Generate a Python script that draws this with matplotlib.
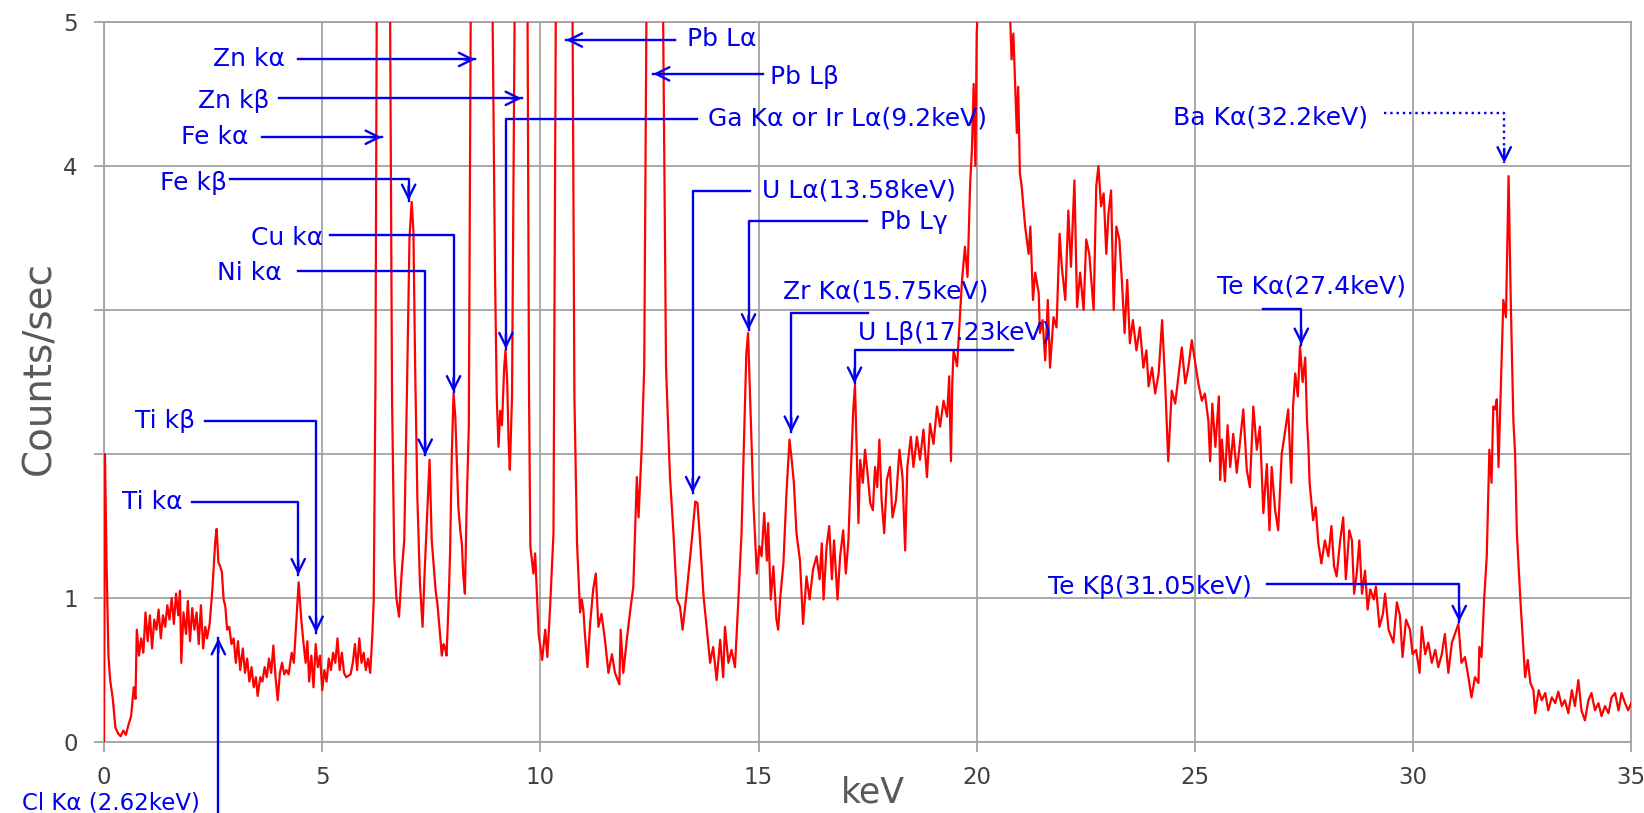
#!/usr/bin/env python3
"""
XRF spectrum with peak identification arrows (counts/sec vs keV)
"""

import numpy as np
import matplotlib.pyplot as plt

# spectrum: (keV, counts/sec)
low_region = [
    (0.0, 0.0), (0.02, 2.0), (0.06, 1.2), (0.1, 0.6), (0.14, 0.43), (0.2, 0.3), (0.26, 0.1),
    (0.32, 0.06), (0.38, 0.04), (0.44, 0.08), (0.5, 0.05), (0.56, 0.12), (0.62, 0.18),
    (0.68, 0.38), (0.72, 0.3), (0.75, 0.78), (0.8, 0.6), (0.85, 0.72), (0.9, 0.62), (0.95, 0.9),
    (1.0, 0.7), (1.05, 0.88), (1.1, 0.65), (1.15, 0.85), (1.2, 0.78), (1.25, 0.92), (1.3, 0.72),
    (1.35, 0.88), (1.4, 0.8), (1.45, 0.95), (1.5, 0.85), (1.55, 1.0), (1.6, 0.82), (1.65, 1.03),
    (1.7, 0.88), (1.74, 1.05), (1.77, 0.55), (1.82, 0.9), (1.88, 0.75), (1.92, 0.98), (1.97, 0.7),
    (2.02, 0.93), (2.07, 0.78), (2.12, 0.9), (2.17, 0.68), (2.22, 0.95), (2.27, 0.65), (2.32, 0.8),
    (2.36, 0.72), (2.42, 0.82), (2.48, 1.05), (2.55, 1.4), (2.58, 1.48), (2.62, 1.25), (2.66, 1.22),
    (2.7, 1.18), (2.74, 0.99), (2.78, 0.94), (2.82, 0.78), (2.87, 0.8), (2.92, 0.68), (2.97, 0.72),
    (3.02, 0.55), (3.07, 0.7), (3.12, 0.5), (3.18, 0.65), (3.23, 0.48), (3.28, 0.58), (3.33, 0.42),
    (3.38, 0.52), (3.43, 0.38), (3.48, 0.45), (3.52, 0.32), (3.58, 0.45), (3.63, 0.42), (3.68, 0.52),
    (3.73, 0.45), (3.78, 0.58), (3.83, 0.48), (3.88, 0.67), (3.93, 0.45), (3.98, 0.29), (4.03, 0.48),
    (4.08, 0.55), (4.13, 0.47), (4.18, 0.5), (4.23, 0.47), (4.3, 0.62), (4.35, 0.55), (4.4, 0.8),
    (4.46, 1.11), (4.52, 0.85), (4.57, 0.69), (4.62, 0.55), (4.66, 0.7), (4.7, 0.42), (4.75, 0.6),
    (4.8, 0.38), (4.85, 0.68), (4.9, 0.52), (4.95, 0.6), (5.0, 0.36), (5.05, 0.5), (5.1, 0.42),
    (5.15, 0.58), (5.2, 0.5), (5.25, 0.62), (5.3, 0.55), (5.35, 0.72), (5.4, 0.5), (5.45, 0.62),
    (5.5, 0.48), (5.55, 0.45), (5.6, 0.46), (5.65, 0.47), (5.7, 0.55), (5.75, 0.68), (5.8, 0.5),
    (5.85, 0.72), (5.9, 0.55), (5.95, 0.62), (6.0, 0.5), (6.05, 0.58), (6.1, 0.48), (6.15, 0.75),
    (6.18, 0.99),
]

mid_region = [
    (6.22, 2.5), (6.26, 6.0), (6.4, 14.0), (6.54, 6.0), (6.6, 2.4), (6.65, 1.29), (6.7, 1.0),
    (6.76, 0.87), (6.82, 1.17), (6.88, 1.4), (6.94, 2.4), (7.0, 3.5), (7.05, 3.75), (7.09, 3.55),
    (7.13, 2.6), (7.18, 1.7), (7.24, 1.1), (7.3, 0.8), (7.35, 1.2), (7.4, 1.54), (7.46, 1.96),
    (7.51, 1.4), (7.55, 1.24), (7.6, 1.05), (7.64, 0.96), (7.7, 0.75), (7.74, 0.6), (7.78, 0.68),
    (7.81, 0.66), (7.85, 0.6), (7.9, 1.0), (7.93, 1.31), (7.97, 2.0), (8.01, 2.42), (8.05, 2.26),
    (8.12, 1.63), (8.17, 1.45), (8.2, 1.38), (8.23, 1.17), (8.27, 1.03), (8.31, 1.63), (8.36, 2.2),
    (8.41, 5.5), (8.63, 16.0), (8.9, 5.2), (8.96, 3.26), (9.0, 2.4), (9.04, 2.05), (9.08, 2.3),
    (9.12, 2.2), (9.17, 2.6), (9.2, 2.72), (9.24, 2.5), (9.27, 2.1), (9.3, 1.89), (9.35, 2.4),
    (9.42, 5.5), (9.57, 9.0), (9.7, 5.5), (9.74, 2.4), (9.77, 1.36), (9.84, 1.17), (9.88, 1.31),
    (9.96, 0.75), (10.04, 0.57), (10.11, 0.78), (10.16, 0.59), (10.22, 0.92), (10.3, 1.45),
    (10.36, 5.5), (10.55, 12.0), (10.73, 5.5), (10.78, 2.4), (10.84, 1.38), (10.91, 0.9),
    (10.95, 0.99), (10.99, 0.9), (11.02, 0.75), (11.08, 0.52), (11.14, 0.82), (11.21, 1.06),
    (11.27, 1.17), (11.33, 0.8), (11.4, 0.89), (11.48, 0.71), (11.56, 0.48), (11.64, 0.61),
    (11.71, 0.48), (11.81, 0.4), (11.84, 0.78), (11.9, 0.48), (11.98, 0.71), (12.05, 0.89),
    (12.13, 1.08), (12.21, 1.84), (12.25, 1.56), (12.32, 2.03), (12.38, 2.6), (12.44, 5.5),
    (12.62, 10.0), (12.8, 5.5), (12.88, 2.6), (12.97, 1.84), (13.05, 1.45), (13.13, 0.99),
    (13.2, 0.94), (13.26, 0.78), (13.35, 1.03), (13.47, 1.4), (13.55, 1.67), (13.6, 1.66),
    (13.66, 1.4), (13.74, 1.01), (13.81, 0.8), (13.89, 0.55), (13.96, 0.66), (14.04, 0.43),
    (14.12, 0.71), (14.19, 0.45), (14.23, 0.8), (14.31, 0.55), (14.38, 0.64), (14.46, 0.52),
    (14.53, 0.94), (14.61, 1.45), (14.67, 2.14), (14.72, 2.7), (14.76, 2.84), (14.81, 2.37),
    (14.85, 1.98), (14.88, 1.68), (14.96, 1.17), (15.02, 1.36), (15.07, 1.29), (15.13, 1.59),
    (15.19, 1.26), (15.22, 1.52), (15.28, 0.99), (15.34, 1.22), (15.41, 0.85), (15.45, 0.78),
    (15.5, 1.01), (15.57, 1.24), (15.64, 1.73), (15.71, 2.1), (15.76, 1.96), (15.81, 1.8),
    (15.87, 1.45), (15.95, 1.26), (16.02, 0.82), (16.1, 1.15), (16.17, 0.99), (16.25, 1.2),
    (16.33, 1.29), (16.4, 1.13), (16.45, 1.38), (16.49, 0.99), (16.56, 1.36), (16.62, 1.5),
    (16.68, 1.13), (16.73, 1.4), (16.81, 0.99), (16.87, 1.29), (16.94, 1.47), (17.0, 1.17),
    (17.06, 1.4), (17.11, 1.84), (17.17, 2.3), (17.21, 2.48), (17.25, 2.03), (17.29, 1.52),
    (17.33, 1.96), (17.39, 1.8), (17.44, 2.03), (17.5, 1.86), (17.56, 1.66), (17.62, 1.61),
    (17.67, 1.91), (17.72, 1.77), (17.77, 2.1), (17.82, 1.68), (17.88, 1.45), (17.94, 1.82),
    (18.01, 1.91), (18.07, 1.56), (18.15, 1.68), (18.23, 2.03), (18.3, 1.84), (18.36, 1.33),
    (18.41, 1.91), (18.49, 2.12), (18.55, 1.91), (18.63, 2.12), (18.7, 1.96), (18.78, 2.17),
    (18.86, 1.84), (18.93, 2.21), (19.01, 2.07), (19.09, 2.33), (19.16, 2.19), (19.24, 2.37),
    (19.32, 2.26), (19.37, 2.54), (19.41, 1.95), (19.44, 2.49), (19.47, 2.72), (19.55, 2.61),
    (19.62, 2.98), (19.66, 3.19), (19.73, 3.44), (19.79, 3.23), (19.85, 3.88), (19.89, 4.11),
    (19.93, 4.57), (19.97, 4.0), (20.0, 4.92), (20.1, 5.6), (20.3, 6.5), (20.5, 7.0), (20.7, 6.0),
    (20.77, 5.0), (20.8, 4.74), (20.84, 4.92), (20.92, 4.23), (20.95, 4.55), (20.99, 3.95),
]

high_region = [
    (21.03, 3.86), (21.11, 3.58), (21.19, 3.39), (21.23, 3.58), (21.29, 3.07), (21.34, 3.26),
    (21.42, 3.12), (21.45, 2.84), (21.51, 2.93), (21.57, 2.65), (21.63, 3.07), (21.68, 2.6),
    (21.76, 2.95), (21.83, 2.88), (21.9, 3.53), (21.95, 3.3), (22.03, 3.07), (22.1, 3.69),
    (22.16, 3.3), (22.24, 3.9), (22.3, 3.02), (22.37, 3.26), (22.45, 3.0), (22.51, 3.49),
    (22.58, 3.39), (22.68, 3.0), (22.74, 3.86), (22.79, 4.0), (22.85, 3.72), (22.91, 3.81),
    (22.97, 3.39), (23.02, 3.67), (23.08, 3.83), (23.14, 3.0), (23.2, 3.58), (23.27, 3.49),
    (23.33, 3.19), (23.39, 2.84), (23.45, 3.21), (23.51, 2.77), (23.58, 2.93), (23.66, 2.72),
    (23.74, 2.88), (23.82, 2.6), (23.89, 2.72), (23.94, 2.47), (24.02, 2.6), (24.09, 2.42),
    (24.17, 2.56), (24.25, 2.93), (24.32, 2.49), (24.39, 1.95), (24.47, 2.44), (24.55, 2.35),
    (24.63, 2.56), (24.7, 2.74), (24.78, 2.49), (24.85, 2.6), (24.93, 2.79), (25.0, 2.65),
    (25.08, 2.49), (25.16, 2.37), (25.23, 2.42), (25.31, 2.23), (25.35, 1.95), (25.4, 2.35),
    (25.47, 2.05), (25.55, 2.4), (25.58, 1.82), (25.62, 2.1), (25.69, 1.81), (25.75, 2.2),
    (25.81, 1.91), (25.88, 2.14), (25.96, 1.87), (26.03, 2.07), (26.11, 2.31), (26.19, 1.89),
    (26.26, 1.77), (26.34, 2.33), (26.42, 2.03), (26.49, 2.19), (26.57, 1.59), (26.65, 1.93),
    (26.71, 1.47), (26.76, 1.91), (26.84, 1.61), (26.91, 1.47), (26.99, 2.0), (27.06, 2.14),
    (27.14, 2.31), (27.21, 1.8), (27.25, 2.33), (27.3, 2.56), (27.36, 2.4), (27.41, 2.75),
    (27.47, 2.5), (27.53, 2.67), (27.57, 2.23), (27.6, 2.07), (27.63, 1.8), (27.71, 1.54),
    (27.77, 1.63), (27.83, 1.38), (27.9, 1.24), (27.98, 1.4), (28.06, 1.29), (28.13, 1.5),
    (28.19, 1.22), (28.25, 1.15), (28.33, 1.4), (28.4, 1.56), (28.46, 1.13), (28.54, 1.47),
    (28.6, 1.4), (28.65, 1.03), (28.71, 1.17), (28.77, 1.4), (28.83, 1.03), (28.9, 1.19),
    (28.96, 0.92), (29.02, 1.06), (29.1, 0.99), (29.15, 1.08), (29.23, 0.8), (29.31, 0.89),
    (29.36, 1.03), (29.44, 0.78), (29.55, 0.69), (29.63, 0.97), (29.7, 0.88), (29.76, 0.59),
    (29.84, 0.85), (29.93, 0.78), (29.99, 0.61), (30.07, 0.64), (30.15, 0.48), (30.2, 0.8),
    (30.28, 0.61), (30.35, 0.69), (30.43, 0.55), (30.51, 0.64), (30.58, 0.52), (30.66, 0.61),
    (30.73, 0.75), (30.81, 0.48), (30.89, 0.69), (30.96, 0.75), (31.04, 0.82), (31.11, 0.55),
    (31.19, 0.59), (31.27, 0.45), (31.34, 0.31), (31.42, 0.45), (31.5, 0.41), (31.52, 0.66),
    (31.57, 0.59), (31.63, 0.99), (31.69, 1.29), (31.75, 2.03), (31.8, 1.8), (31.84, 2.33),
    (31.88, 2.31), (31.92, 2.38), (31.96, 1.91), (32.0, 2.33), (32.07, 3.07), (32.13, 2.95),
    (32.19, 3.93), (32.24, 3.07), (32.3, 2.23), (32.34, 2.0), (32.38, 1.45), (32.46, 0.99),
    (32.53, 0.64), (32.57, 0.45), (32.63, 0.57), (32.69, 0.41), (32.76, 0.36), (32.8, 0.2),
    (32.88, 0.36), (32.95, 0.29), (33.03, 0.34), (33.1, 0.22), (33.18, 0.31), (33.26, 0.27),
    (33.33, 0.35), (33.41, 0.25), (33.48, 0.29), (33.56, 0.2), (33.64, 0.36), (33.71, 0.25),
    (33.79, 0.43), (33.86, 0.22), (33.94, 0.15), (34.02, 0.29), (34.09, 0.34), (34.17, 0.22),
    (34.25, 0.27), (34.32, 0.18), (34.4, 0.25), (34.48, 0.2), (34.55, 0.31), (34.63, 0.34),
    (34.71, 0.22), (34.78, 0.34), (34.86, 0.27), (34.93, 0.22), (35.0, 0.27),
]

# peak labels: text, text anchor (keV, cps), alignment, leader path ending at the peak
peak_labels = [
    ("Zn kα", (4.15, 4.74), "right", [(4.45, 4.74), (8.5, 4.74)]),
    ("Zn kβ", (3.80, 4.45), "right", [(4.01, 4.47), (9.57, 4.47)]),
    ("Fe kα", (3.30, 4.20), "right", [(3.62, 4.20), (6.36, 4.20)]),
    ("Fe kβ", (2.82, 3.88), "right", [(2.89, 3.91), (6.98, 3.91), (6.98, 3.76)]),
    ("Cu kα", (5.02, 3.50), "right", [(5.18, 3.52), (8.01, 3.52), (8.01, 2.43)]),
    ("Ni kα", (4.08, 3.26), "right", [(4.45, 3.27), (7.36, 3.27), (7.36, 1.99)]),
    ("Ti kβ", (2.09, 2.23), "right", [(2.31, 2.23), (4.86, 2.23), (4.86, 0.76)]),
    ("Ti kα", (1.79, 1.67), "right", [(2.01, 1.67), (4.45, 1.67), (4.45, 1.16)]),
    ("Cl Kα (2.62keV)", (2.2, -0.42), "right", [(2.3, -0.7), (2.62, -0.7), (2.62, 0.72)]),
    ("Pb Lα", (13.36, 4.88), "left", [(13.09, 4.875), (10.59, 4.875)]),
    ("Pb Lβ", (15.26, 4.62), "left", [(15.11, 4.64), (12.59, 4.64)]),
    ("Ga Kα or Ir Lα(9.2keV)", (13.84, 4.33), "left", [(13.58, 4.33), (9.21, 4.33), (9.21, 2.73)]),
    ("U Lα(13.58keV)", (15.07, 3.83), "left", [(14.81, 3.83), (13.49, 3.83), (13.49, 1.73)]),
    ("Pb Lγ", (17.79, 3.61), "left", [(17.48, 3.62), (14.77, 3.62), (14.77, 2.86)]),
    ("Zr Kα(15.75keV)", (17.92, 3.13), "center", [(17.52, 2.98), (15.75, 2.98), (15.75, 2.15)]),
    ("U Lβ(17.23keV)", (19.49, 2.84), "center", [(20.84, 2.72), (17.2, 2.72), (17.2, 2.49)]),
    ("Ba Kα(32.2keV)", (28.97, 4.34), "right", [(29.34, 4.37), (32.09, 4.37), (32.09, 4.02)]),
    ("Te Kα(27.4keV)", (27.67, 3.16), "center", [(26.56, 3.01), (27.44, 3.01), (27.44, 2.76)]),
    ("Te Kβ(31.05keV)", (26.3, 1.08), "right", [(26.65, 1.095), (31.06, 1.095), (31.06, 0.835)]),
]
dotted_labels = {"Ba Kα(32.2keV)"}

spectrum = np.array(low_region + mid_region + high_region)
kev = spectrum[:, 0]
cps = spectrum[:, 1]

BLUE = '#0000EE'
GRID = '#A3A3A3'
TICK_TXT = '#404040'

fig = plt.figure(figsize=(16.44, 8.13), dpi=100)
ax = fig.add_axes([0.0633, 0.0873, 0.9289, 0.8856])

ax.plot(kev, cps, color='#FF0000', lw=1.6, zorder=3)

ax.set_xlim(0, 35)
ax.set_ylim(0, 5)
ax.set_xticks(np.arange(0, 36, 5))
ax.set_yticks([0, 1, 2, 3, 4, 5])
ax.set_yticklabels(['0', '1', '', '', '4', '5'])
ax.grid(True, color=GRID, lw=1.3)
for s in ax.spines.values():
    s.set_color(GRID)
    s.set_linewidth(1.3)
ax.tick_params(axis='both', colors=GRID, length=7, width=1.3, labelsize=16.5,
               labelcolor=TICK_TXT)
ax.tick_params(axis='x', pad=10)
ax.tick_params(axis='y', pad=12)

ax.set_ylabel('Counts/sec', fontsize=28, color='#595959')
ax.yaxis.set_label_coords(-0.030, 0.52)
fig.text(0.531, 0.004, 'keV', fontsize=25, color='#595959', ha='center', va='bottom')

for label, txy, ha, path in peak_labels:
    ls = ':' if label in dotted_labels else '-'
    xs = [p[0] for p in path]
    ys = [p[1] for p in path]
    ax.plot(xs, ys, color=BLUE, lw=1.7, ls=ls, clip_on=False, zorder=4)
    tip = path[-1]
    prev = path[-2]
    # short stem so only the open arrow head is drawn at the tip
    dx, dy = tip[0] - prev[0], tip[1] - prev[1]
    if abs(dx) > 1e-9:
        back = (tip[0] - np.sign(dx) * 0.25, tip[1])
    else:
        back = (tip[0], tip[1] - np.sign(dy) * 0.1)
    ax.annotate('', xy=tip, xytext=back, annotation_clip=False,
                arrowprops=dict(arrowstyle='->', color=BLUE, lw=1.7,
                                mutation_scale=24, shrinkA=0, shrinkB=0),
                zorder=5)
    fs = 16.5 if label.startswith('Cl') else 18
    ax.text(txy[0], txy[1], label, ha=ha, va='center', fontsize=fs,
            color=BLUE, clip_on=False, zorder=5)

plt.savefig('out.png', dpi=100)
